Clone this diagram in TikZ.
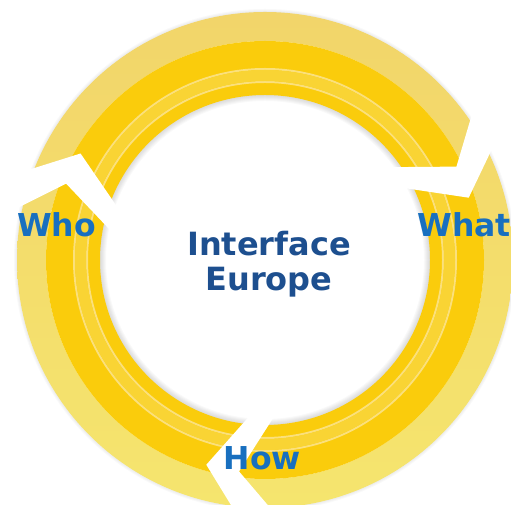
\documentclass[tikz,border=0pt]{standalone}
\usepackage{fontspec}
\setmainfont{DejaVu Sans}
\usetikzlibrary{calc}
\definecolor{paletop}{HTML}{F2D56A}
\definecolor{palebot}{HTML}{F5E56E}
\definecolor{gold}{HTML}{FACC0C}
\definecolor{band}{HTML}{F9D434}
\definecolor{thinline}{HTML}{FBE07C}
\definecolor{darkblue}{HTML}{1D4F8F}
\definecolor{wblue}{HTML}{186FBF}

\begin{document}
\begin{tikzpicture}[x=1pt, y=1pt,
                    word/.style = {font=\fontsize{31.5}{35}\selectfont\bfseries, text=wblue, inner sep=0pt, anchor=base},
                    title/.style = {font=\fontsize{32}{35}\selectfont\bfseries, text=darkblue, inner sep=0pt, align=center},
                    haze/.style = {black, opacity=0.025}]
    \useasboundingbox (0,0) rectangle (511,505);
    \clip (0,0) rectangle (511,505);
    \coordinate (c) at (265,245);
    % soft edges of the ring
    \foreach \w in {2,4,...,12}
        \draw[haze, line width=\w] (c) circle (165);
    \foreach \w in {2,4,6}
        \draw[haze, line width=\w] (c) circle (248);
    % ring
    \shade[top color=paletop, bottom color=palebot, even odd rule] (c) circle (248) (c) circle (219);
    \fill[gold, even odd rule] (c) circle (219) (c) circle (165);
    \draw[thinline, line width=2] (c) circle (178) (c) circle (191);
    \fill[band, even odd rule] (c) circle (190) (c) circle (179);
    % white chevrons, clockwise
    \begin{scope}[shift={(c)}]
        \foreach \a in {160, 27, 264}
            \fill[white] (\a:258) -- ({\a-10}:213) -- (\a:158) -- ({\a+9}:158) -- ({\a-1}:213) -- ({\a+9}:258) -- cycle;
    \end{scope}
    % texts
    \node[title] (ie) at (269,240.5) {Interface\\Europe};
    \node[word] (who) at (56.5,268) {Who};
    \node[word] (what) at (464,268) {What};
    \node[word] (how) at (262.5,35) {How};
\end{tikzpicture}
\end{document}
